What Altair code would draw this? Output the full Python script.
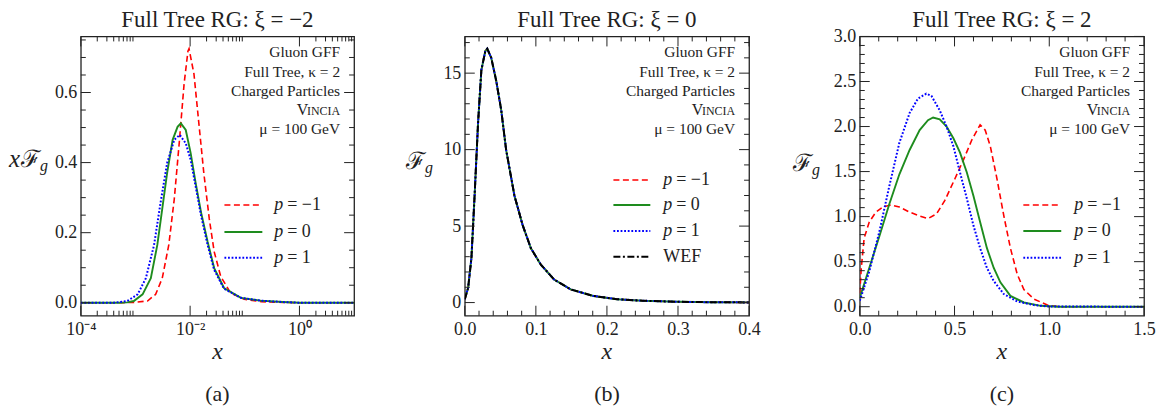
import altair as alt
import pandas as pd

FONT = "Liberation Serif"
INK = "#222222"
RED = "#ff0000"
GREEN = "#1e8c1e"
BLUE = "#0000ff"

# ---------------- panel (a): xi = -2, log x ----------------
a_red_x = [0.0001, 0.0005, 0.00093, 0.00166, 0.00234, 0.00309, 0.00407, 0.00513, 0.00631, 0.00776,
           0.00912, 0.00955, 0.01175, 0.01445, 0.01778, 0.02239, 0.02754, 0.03631, 0.05495, 0.09772,
           0.2, 0.5, 1.0, 10.0]
a_red_y = [0.0, 0.0, 0.001, 0.005, 0.024, 0.07, 0.165, 0.296, 0.455, 0.625,
           0.718, 0.725, 0.653, 0.512, 0.371, 0.24, 0.146, 0.075, 0.028, 0.01,
           0.003, 0.001, 0.0, 0.0]
a_green_x = [0.0001, 0.0005, 0.000708, 0.000933, 0.00135, 0.00191, 0.00251, 0.00309, 0.0038, 0.00479,
             0.00589, 0.00676, 0.00832, 0.01023, 0.01259, 0.01585, 0.02089, 0.02754, 0.04169, 0.08511,
             0.195, 0.5, 1.0, 10.0]
a_green_y = [0.0, 0.0, 0.001, 0.005, 0.024, 0.07, 0.165, 0.268, 0.371, 0.465,
             0.502, 0.512, 0.493, 0.427, 0.343, 0.258, 0.174, 0.099, 0.042, 0.014,
             0.006, 0.002, 0.0, 0.0]
a_blue_x = [0.0001, 0.0004, 0.000708, 0.001096, 0.00155, 0.00219, 0.00288, 0.0038, 0.00513, 0.00646,
            0.00832, 0.01023, 0.01259, 0.01585, 0.02089, 0.02754, 0.04169, 0.08511, 0.195, 0.5,
            1.0, 10.0]
a_blue_y = [0.0, 0.0, 0.005, 0.024, 0.07, 0.165, 0.286, 0.399, 0.465, 0.479,
            0.455, 0.408, 0.333, 0.249, 0.165, 0.094, 0.04, 0.014, 0.006, 0.002,
            0.0, 0.0]
a_x_major = [0.0001, 0.01, 1.0]
a_x_minor = [0.0002, 0.0003, 0.0004, 0.0005, 0.0006, 0.0007, 0.0008, 0.0009,
             0.02, 0.03, 0.04, 0.05, 0.06, 0.07, 0.08, 0.09,
             2, 3, 4, 5, 6, 7, 8, 9]
a_y_major = [0.0, 0.2, 0.4, 0.6]
a_y_minor = [0.05, 0.1, 0.15, 0.25, 0.3, 0.35, 0.45, 0.5, 0.55, 0.65, 0.7, 0.75]

# ---------------- panel (b): xi = 0 ----------------
b_x = [0.0, 0.0047, 0.0093, 0.014, 0.0186, 0.0233, 0.0289, 0.0316, 0.0372, 0.0442,
       0.0512, 0.0581, 0.0698, 0.0814, 0.093, 0.107, 0.1256, 0.149, 0.181, 0.214,
       0.25, 0.3, 0.35, 0.4]
b_y = [0.22, 0.97, 2.9, 7.2, 11.7, 15.2, 16.45, 16.6, 16.0, 14.5,
       12.6, 10.0, 7.0, 5.06, 3.55, 2.48, 1.51, 0.86, 0.43, 0.22,
       0.12, 0.05, 0.02, 0.01]
b_x_major = [0.0, 0.1, 0.2, 0.3, 0.4]
b_x_minor = [0.02, 0.04, 0.06, 0.08, 0.12, 0.14, 0.16, 0.18, 0.22, 0.24, 0.26, 0.28,
             0.32, 0.34, 0.36, 0.38]
b_y_major = [0, 5, 10, 15]
b_y_minor = [1, 2, 3, 4, 6, 7, 8, 9, 11, 12, 13, 14, 16, 17]

# ---------------- panel (c): xi = 2 ----------------
c_red_x = [0.0, 0.008, 0.023, 0.05, 0.085, 0.121, 0.165, 0.209, 0.263, 0.316,
           0.36, 0.405, 0.449, 0.502, 0.547, 0.591, 0.635, 0.662, 0.689, 0.724,
           0.76, 0.795, 0.831, 0.866, 0.92, 0.99, 1.05, 1.5]
c_red_y = [0.15, 0.43, 0.76, 0.94, 1.05, 1.106, 1.13, 1.106, 1.05, 1.007,
           0.978, 1.03, 1.18, 1.42, 1.63, 1.85, 2.02, 1.96, 1.78, 1.42,
           1.01, 0.65, 0.36, 0.19, 0.084, 0.018, 0.0, 0.0]
c_green_x = [0.0, 0.05, 0.103, 0.156, 0.209, 0.263, 0.316, 0.36, 0.387, 0.422,
             0.458, 0.494, 0.529, 0.565, 0.6, 0.635, 0.671, 0.707, 0.742, 0.795,
             0.866, 0.955, 1.05, 1.5]
c_green_y = [0.1, 0.43, 0.78, 1.14, 1.47, 1.74, 1.96, 2.07, 2.10, 2.08,
             2.0, 1.87, 1.71, 1.49, 1.23, 0.94, 0.65, 0.43, 0.27, 0.12,
             0.047, 0.01, 0.0, 0.0]
c_blue_x = [0.0, 0.05, 0.103, 0.156, 0.209, 0.263, 0.307, 0.351, 0.378, 0.422,
            0.458, 0.494, 0.529, 0.565, 0.6, 0.635, 0.671, 0.707, 0.76, 0.831,
            0.92, 1.0, 1.5]
c_blue_y = [0.066, 0.39, 0.83, 1.34, 1.82, 2.15, 2.31, 2.365, 2.34, 2.18,
            2.0, 1.78, 1.49, 1.2, 0.9, 0.65, 0.43, 0.285, 0.14, 0.058,
            0.018, 0.002, 0.0]
c_x_major = [0.0, 0.5, 1.0, 1.5]
c_x_minor = [0.1, 0.2, 0.3, 0.4, 0.6, 0.7, 0.8, 0.9, 1.1, 1.2, 1.3, 1.4]
c_y_major = [0.0, 0.5, 1.0, 1.5, 2.0, 2.5, 3.0]
c_y_minor = [0.1, 0.2, 0.3, 0.4, 0.6, 0.7, 0.8, 0.9, 1.1, 1.2, 1.3, 1.4,
             1.6, 1.7, 1.8, 1.9, 2.1, 2.2, 2.3, 2.4, 2.6, 2.7, 2.8, 2.9]

annot_lines = ["Gluon GFF", "Full Tree, κ = 2", "Charged Particles"]
mu_line = "μ = 100 GeV"
titles = ["Full Tree RG: ξ = −2", "Full Tree RG: ξ = 0", "Full Tree RG: ξ = 2"]
subcaps = ["(a)", "(b)", "(c)"]
legend_vals = ["= −1", "= 0", "= 1"]

STYLE = {
    "red": dict(color=RED, strokeDash=[6, 3.5], strokeWidth=1.6),
    "green": dict(color=GREEN, strokeWidth=1.9),
    "blue": dict(color=BLUE, strokeDash=[1.8, 1.8], strokeWidth=2.0),
    "black": dict(color="black", strokeDash=[7, 2.5, 2, 2.5], strokeWidth=2.0),
}


def txt(text, x, y, size=15.5, align="left", style="normal", font=FONT, baseline="middle"):
    return alt.Chart(pd.DataFrame({"t": [text]})).mark_text(
        font=font, fontSize=size, align=align, baseline=baseline, fontStyle=style, color=INK
    ).encode(text="t:N", x=alt.value(x), y=alt.value(y))


def panel(series, xs, ys, W, H, xmaj, xmin, ymaj, ymin, xfmt, yfmt, title, subcap,
          leg, ytitle):
    xax = alt.Axis(values=xmaj, title=None, ticks=False, domain=False, grid=False,
                   labelPadding=5, labelFlush=False, labelOverlap=False, **xfmt)
    yax = alt.Axis(values=ymaj, title=None, ticks=False, domain=False, grid=False,
                   labelPadding=4, labelOverlap=False, format=yfmt)
    layers = []
    for sx, sy, key in series:
        df = pd.DataFrame({"x": sx, "y": sy})
        layers.append(alt.Chart(df).mark_line(clip=True, **STYLE[key]).encode(
            x=alt.X("x:Q", scale=xs, axis=xax), y=alt.Y("y:Q", scale=ys, axis=yax)))
    # inward ticks on all four sides
    for vals, L in ((xmaj, 10), (xmin, 5)):
        base = alt.Chart(pd.DataFrame({"x": vals})).mark_rule(color=INK, strokeWidth=1)
        layers.append(base.encode(x=alt.X("x:Q", scale=xs, axis=xax), y=alt.value(H), y2=alt.value(H - L)))
        layers.append(base.encode(x=alt.X("x:Q", scale=xs, axis=xax), y=alt.value(0), y2=alt.value(L)))
    for vals, L in ((ymaj, 10), (ymin, 5)):
        base = alt.Chart(pd.DataFrame({"y": vals})).mark_rule(color=INK, strokeWidth=1)
        layers.append(base.encode(y=alt.Y("y:Q", scale=ys, axis=yax), x=alt.value(0), x2=alt.value(L)))
        layers.append(base.encode(y=alt.Y("y:Q", scale=ys, axis=yax), x=alt.value(W - L), x2=alt.value(W)))
    # annotation block
    ax = W - 14
    for i, t in enumerate(annot_lines):
        layers.append(txt(t, ax, 16 + 19.3 * i, align="right"))
    layers.append(txt("INCIA", ax, 75, size=12, align="right"))
    layers.append(txt("V", ax - 32, 74, size=16, align="right"))
    layers.append(txt(mu_line, ax, 93, align="right"))
    # legend
    s0, s1, lab, rows, keys, labels = leg
    for r, key, lb in zip(rows, keys, labels):
        st = dict(STYLE[key])
        r = r - 3
        layers.append(alt.Chart(pd.DataFrame({"a": [0]})).mark_rule(**st).encode(
            x=alt.value(W + s0), x2=alt.value(W + s1), y=alt.value(r)))
        if lb == "WEF":
            layers.append(txt("WEF", W + lab, r, size=18))
        else:
            layers.append(txt("p", W + lab, r, size=18, style="italic"))
            layers.append(txt(lb, W + lab + 13, r, size=18))
    # y title
    for t, x, y, size, style, font in ytitle:
        layers.append(txt(t, x, y - 3, size=size, style=style, font=font, baseline="alphabetic"))
    # panel title, x title and subcaption
    layers.append(txt(title, W / 2, -16, size=23, align="center"))
    layers.append(txt("x", W / 2, H + 43, size=24, style="italic", align="center", baseline="alphabetic"))
    layers.append(txt(subcap, W / 2, H + 86, size=22, align="center", baseline="alphabetic"))
    return alt.layer(*layers).properties(width=W, height=H)


H = 280
Wa, Wb, Wc = 274, 285, 285

pa = panel(
    [(a_red_x, a_red_y, "red"), (a_green_x, a_green_y, "green"), (a_blue_x, a_blue_y, "blue")],
    alt.Scale(type="log", domain=[0.0001, 10], nice=False),
    alt.Scale(domain=[-0.037, 0.76], nice=False, zero=False),
    Wa, H, a_x_major, a_x_minor, a_y_major, a_y_minor,
    dict(labelExpr="datum.value < 0.001 ? '10⁻⁴' : datum.value < 0.1 ? '10⁻²' : '10⁰'"),
    ".1f", titles[0], subcaps[0],
    (-130, -92, -80, [172, 199, 225], ["red", "green", "blue"], legend_vals),
    [("x", -72, 134, 25, "italic", FONT), ("ℱ", -60, 134, 24, "normal", "DejaVu Serif"),
     ("g", -41, 138, 16, "italic", FONT)],
)
pb = panel(
    [(b_x, b_y, "red"), (b_x, b_y, "green"), (b_x, b_y, "blue"), (b_x, b_y, "black")],
    alt.Scale(domain=[0, 0.4], nice=False, zero=False),
    alt.Scale(domain=[-0.86, 17.4], nice=False, zero=False),
    Wb, H, b_x_major, b_x_minor, b_y_major, b_y_minor,
    dict(format=".1f"), "d", titles[1], subcaps[1],
    (-136, -99, -86, [147, 172, 198, 224], ["red", "green", "blue", "black"], legend_vals + ["WEF"]),
    [("ℱ", -59, 136, 24, "normal", "DejaVu Serif"), ("g", -40, 140, 16, "italic", FONT)],
)
pc = panel(
    [(c_red_x, c_red_y, "red"), (c_green_x, c_green_y, "green"), (c_blue_x, c_blue_y, "blue")],
    alt.Scale(domain=[0, 1.5], nice=False, zero=False),
    alt.Scale(domain=[-0.1, 3.0], nice=False, zero=False),
    Wc, H, c_x_major, c_x_minor, c_y_major, c_y_minor,
    dict(format=".1f"), ".1f", titles[2], subcaps[2],
    (-121, -83, -70, [172, 198, 225], ["red", "green", "blue"], legend_vals),
    [("ℱ", -67, 138, 24, "normal", "DejaVu Serif"), ("g", -48, 142, 16, "italic", FONT)],
)

chart = alt.hconcat(pa, pb, pc, spacing=111, bounds="flush").properties(
    padding={"left": 0, "top": 0, "right": 0, "bottom": 0}
).configure_view(stroke=INK, strokeWidth=1.3).configure_axis(
    labelFont=FONT, labelFontSize=18, labelColor=INK
)

chart.save("out.html", embed_options={"renderer": "svg", "actions": False})
